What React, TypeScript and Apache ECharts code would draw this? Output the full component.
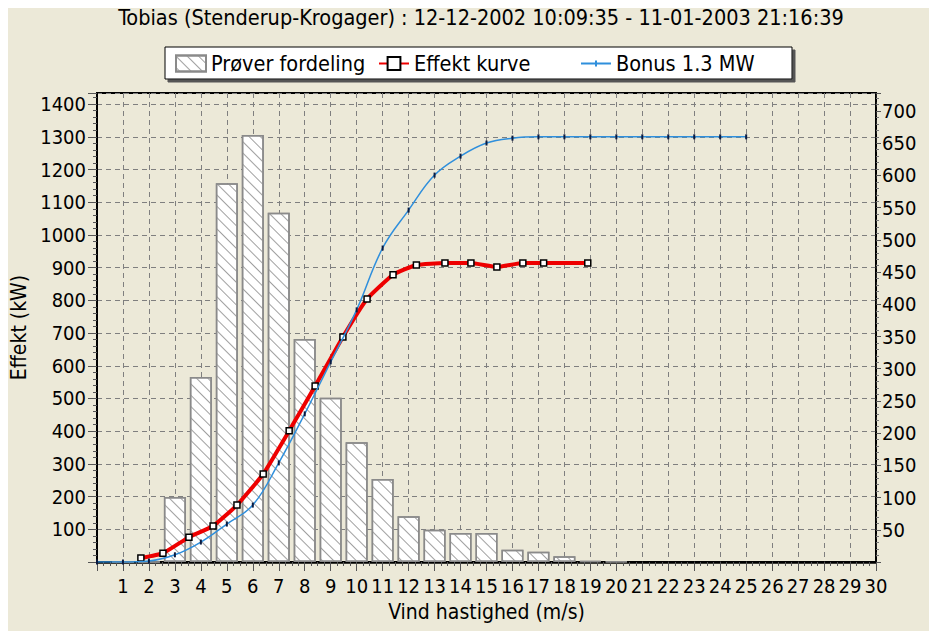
import React, { useEffect, useRef } from "react";
import * as echarts from "echarts";

const chartTitle = "Tobias (Stenderup-Krogager) : 12-12-2002 10:09:35 - 11-01-2003 21:16:39";
const seriesNames = ["Prøver fordeling", "Effekt kurve", "Bonus 1.3 MW"];
const xAxisName = "Vind hastighed (m/s)";
const leftAxisName = "Effekt (kW)";
const rightAxisName = "Antal prøver";

// Sample distribution (bars, right axis)
const binSpeeds = [1, 2, 3, 4, 5, 6, 7, 8, 9, 10, 11, 12, 13, 14, 15, 16, 17, 18, 19, 20];
const binCounts = [0, 0, 101, 287, 588, 663, 542, 346, 255, 186, 129, 71, 50, 45, 45, 19, 16, 9, 1.5, 1];

// Measured power curve (red)
const effektSpeeds = [1.69, 2.54, 3.54, 4.47, 5.39, 6.4, 7.4, 8.4, 9.47, 10.4, 11.4, 12.3, 13.4, 14.4, 15.4, 16.4, 17.2, 18.9];
const effektPower = [12, 27, 76, 110, 174, 269, 401, 538, 688, 804, 878, 908, 914, 914, 902, 914, 914, 914];

// Reference power curve Bonus 1.3 MW (blue)
const bonusSpeeds = [0, 1, 2, 3, 4, 5, 6, 7, 8, 9, 10, 11, 12, 13, 14, 15, 16, 17, 18, 19, 20, 21, 22, 23, 24, 25];
const bonusPower = [0, 0, 3, 22, 61, 116, 174, 303, 453, 612, 771, 960, 1076, 1183, 1241, 1281, 1296, 1300, 1300, 1300, 1300, 1300, 1300, 1300, 1300, 1300];

const FONT = "'DejaVu Sans Condensed', 'DejaVu Sans', sans-serif";
const BG = "#ECE9D8";

export default function App() {
  const ref = useRef<HTMLDivElement>(null);

  useEffect(() => {
    if (!ref.current) return;
    const chart = echarts.init(ref.current, null, { renderer: "svg" });

    const gridDash = { color: "#7f7f7f", width: 1, type: [5, 4] as number[] };
    const labelStyle = { color: "#000", fontFamily: FONT, fontSize: 20 };
    const nameStyle = { color: "#000", fontFamily: FONT, fontSize: 21, lineHeight: 20 };
    const fmt = (v: number) => String(v);

    chart.setOption({
      animation: false,
      backgroundColor: BG,
      textStyle: { fontFamily: FONT },
      graphic: [
        { type: "rect", z: -10, silent: true, shape: { x: 0, y: 0, width: 937, height: 7 }, style: { fill: "#ffffff" } },
        { type: "rect", z: -10, silent: true, shape: { x: 0, y: 0, width: 7, height: 631 }, style: { fill: "#ffffff" } },
      ],
      title: {
        text: chartTitle,
        left: 481,
        textAlign: "center",
        top: 8,
        padding: 0,
        textStyle: { fontFamily: FONT, fontSize: 21.5, lineHeight: 18, fontWeight: "normal", color: "#000" },
      },
      legend: {
        left: 165,
        top: 47,
        orient: "horizontal",
        padding: [5, 19, 4, 10],
        itemWidth: 30,
        itemHeight: 16,
        itemGap: 10,
        backgroundColor: "#fff",
        borderColor: "#000",
        borderWidth: 1,
        borderRadius: 0,
        shadowColor: "#555",
        shadowBlur: 0,
        shadowOffsetX: 3,
        shadowOffsetY: 3,
        selectedMode: false,
        textStyle: { fontFamily: FONT, fontSize: 21.5, color: "#000", width: 157, lineHeight: 23 },
        data: [
          { name: seriesNames[0], icon: "rect" },
          { name: seriesNames[1] },
          {
            name: seriesNames[2],
            icon: "path://M0,7 L30,7 L30,9 L0,9 Z M14,5 L16,5 L16,11 L14,11 Z",
            itemStyle: { color: "#2f8fdc" },
          },
        ],
      },
      grid: {
        left: 97,
        top: 93,
        width: 779,
        height: 469,
        show: true,
        borderColor: "#000",
        borderWidth: 2,
        backgroundColor: "transparent",
        containLabel: false,
        outerBoundsMode: "none",
      },
      xAxis: {
        type: "value",
        min: 0,
        max: 30,
        interval: 1,
        name: xAxisName,
        nameLocation: "middle",
        nameGap: 40,
        nameTextStyle: { ...nameStyle },
        axisLine: { show: true, onZero: false, lineStyle: { color: "#000", width: 2.5 } },
        axisTick: { show: true, length: 9, lineStyle: { color: "#555", width: 1 } },
        minorTick: { show: true, splitNumber: 4, length: 4, lineStyle: { color: "#555", width: 1 } },
        axisLabel: { ...labelStyle, margin: 14, showMinLabel: false, formatter: fmt },
        splitLine: { show: true, lineStyle: gridDash },
        minorSplitLine: { show: false },
      },
      yAxis: [
        {
          type: "value",
          min: 0,
          max: 1434,
          interval: 100,
          position: "left",
          name: leftAxisName,
          nameLocation: "middle",
          nameGap: 67,
          nameTextStyle: { ...nameStyle },
          axisLine: { show: true, lineStyle: { color: "#000", width: 2 } },
          axisTick: { show: true, length: 9, lineStyle: { color: "#555", width: 1 } },
          minorTick: { show: true, splitNumber: 5, length: 4, lineStyle: { color: "#555", width: 1 } },
          axisLabel: { ...labelStyle, margin: 11, showMinLabel: false, showMaxLabel: false, formatter: fmt },
          splitLine: { show: true, lineStyle: gridDash },
        },
        {
          type: "value",
          min: 0,
          max: 728,
          interval: 50,
          position: "right",
          name: rightAxisName,
          nameLocation: "middle",
          nameGap: 53,
          nameTextStyle: { ...nameStyle },
          axisLine: { show: true, lineStyle: { color: "#000", width: 1.5 } },
          axisTick: { show: true, length: 5, lineStyle: { color: "#555", width: 1 } },
          minorTick: { show: true, splitNumber: 5, length: 3, lineStyle: { color: "#777", width: 1 } },
          axisLabel: { ...labelStyle, margin: 6, showMinLabel: false, showMaxLabel: false, formatter: fmt },
          splitLine: { show: false },
        },
      ],
      series: [
        {
          name: seriesNames[0],
          type: "bar",
          yAxisIndex: 1,
          barWidth: 22,
          data: binSpeeds.map((s, i) => [s, binCounts[i]]),
          itemStyle: {
            color: "#ffffff",
            borderColor: "#8a8a8a",
            borderWidth: 1.5,
            decal: {
              symbol: "rect",
              symbolSize: 1,
              color: "#a0a0a0",
              dashArrayX: [1, 0],
              dashArrayY: [1, 7],
              rotation: Math.PI / 4,
            },
          },
          z: 1,
        },
        {
          name: seriesNames[1],
          type: "line",
          yAxisIndex: 0,
          data: effektSpeeds.map((s, i) => [s, effektPower[i]]),
          smooth: 0.15,
          lineStyle: { color: "#ee0000", width: 4 },
          symbol: "rect",
          symbolSize: 6,
          showAllSymbol: true,
          itemStyle: { color: "#ffffff", borderColor: "#000", borderWidth: 1.5 },
          z: 3,
        },
        {
          name: seriesNames[2],
          type: "line",
          yAxisIndex: 0,
          data: bonusSpeeds.map((s, i) => [s, bonusPower[i]]),
          smooth: 0.4,
          lineStyle: { color: "#2f8fdc", width: 1.5 },
          symbol: "rect",
          symbolSize: [2, 5],
          showAllSymbol: true,
          itemStyle: { color: "#0a1a40", borderWidth: 0 },
          z: 4,
        },
      ],
    });

    return () => chart.dispose();
  }, []);

  return <div ref={ref} style={{ width: 937, height: 631, marginTop: -8, marginLeft: -8 }} />;
}
